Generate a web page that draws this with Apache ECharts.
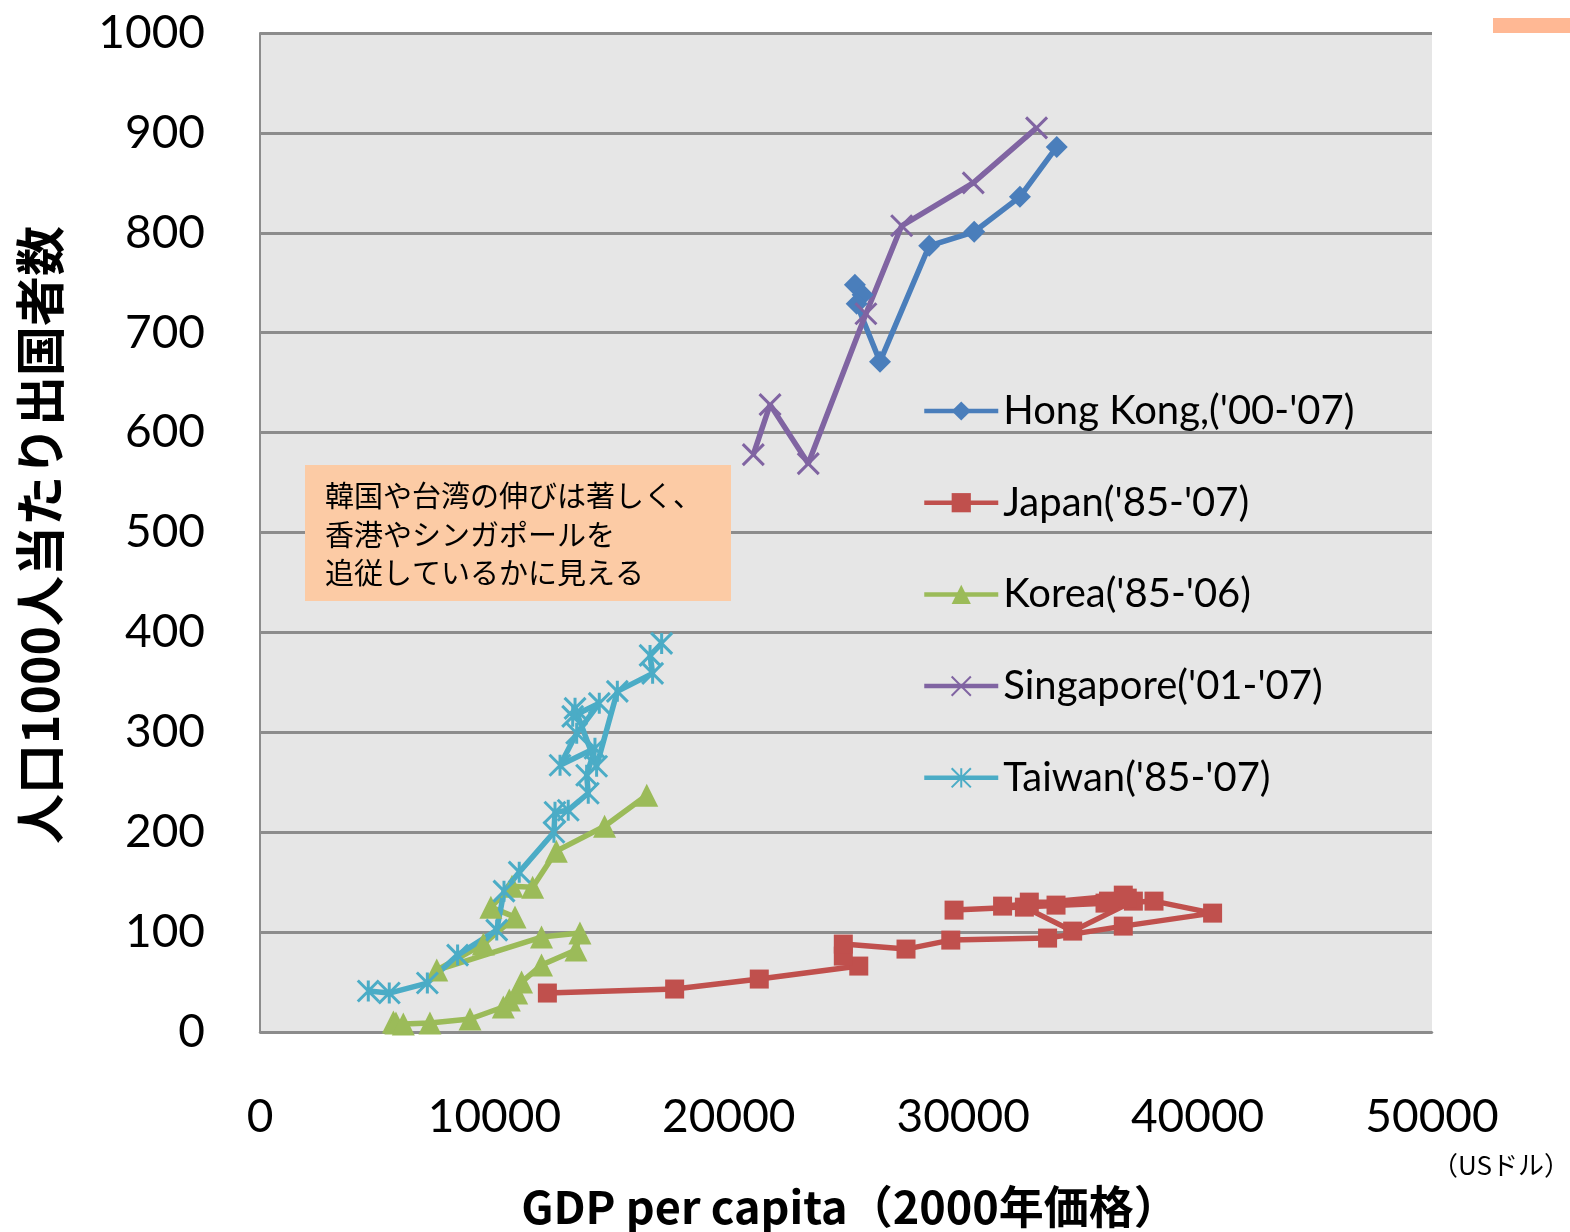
<!DOCTYPE html>
<html>
<head>
<meta charset="utf-8">
<script src="https://cdn.jsdelivr.net/npm/echarts@6/dist/echarts.min.js"></script>
<style>
  html, body { margin: 0; padding: 0; background: #ffffff; }
  #chart { width: 1570px; height: 1232px; }
</style>
</head>
<body>
<div id="chart"></div>
<script>
// GDP per capita (USD, 2000 prices) and outbound travellers per 1000 population
const hongKongGdp  = [25380, 25710, 25455, 26450, 28550, 30470, 32420, 33990];
const hongKongRate = [748, 738, 729, 671, 787, 801, 836, 886];

const japanGdp  = [12260, 17690, 21300, 25545, 24885, 24885, 27560, 29470, 33600, 36830, 40640, 38140,
                   36050, 29610, 33960, 36830, 31680, 32610, 34670, 37260, 37000, 36200, 32820];
const japanRate = [39, 43, 53, 66, 76, 88, 83, 92, 94, 106, 119, 131,
                   129, 122, 127, 137, 126, 125, 101, 131, 134, 131, 130];

const koreaGdp  = [5690, 5800, 6115, 7250, 8960, 10380, 10635, 10950, 11160, 12010, 13480, 13650,
                   12010, 7540, 9530, 10880, 9850, 10750, 11630, 12640, 14700, 16500];
const koreaRate = [10, 9, 8, 9, 13, 25, 32, 39, 50, 67, 82, 99,
                   95, 62, 88, 115, 125, 146, 145, 181, 206, 237];

const singaporeGdp  = [21045, 21760, 23390, 25850, 27375, 30430, 33130];
const singaporeRate = [578, 628, 569, 719, 807, 850, 905];

const taiwanGdp  = [4620, 5515, 7140, 8430, 10100, 10410, 11060, 12540, 12585, 13150, 14005, 13935,
                    14290, 12800, 13510, 14475, 13340, 13440, 14360, 15245, 16750, 16640, 17135];
const taiwanRate = [41, 39, 49, 77, 102, 141, 160, 200, 220, 222, 239, 257,
                    284, 267, 299, 329, 316, 324, 266, 341, 359, 377, 389];

const seriesNames = ["Hong Kong,('00-'07)", "Japan('85-'07)", "Korea('85-'06)", "Singapore('01-'07)", "Taiwan('85-'07)"];
const yAxisTitle = '人口1000人当たり出国者数';
const xAxisTitle = 'GDP per capita（2000年価格）';
const unitLabel = '（USドル）';
const noteLines = ['韓国や台湾の伸びは著しく、', '香港やシンガポールを', '追従しているかに見える'];

const pairs = (xs, ys) => xs.map((x, i) => [x, ys[i]]);

const latin = 'Lato, "Noto Sans", sans-serif';
const cjk = '"Noto Sans CJK JP", sans-serif';

const crossPath = 'path://M0,0L10,10M10,0L0,10';
const starPath = 'path://M0,0L10,10M10,0L0,10M5,0L5,10';

function lineSeries(name, data, color, symbol, size, stroked) {
  return {
    name: name,
    type: 'line',
    data: data,
    symbol: symbol,
    symbolSize: size,
    showSymbol: true,
    animation: false,
    lineStyle: { color: color, width: 5.5 },
    itemStyle: stroked
      ? { color: color, borderColor: color, borderWidth: 3 }
      : { color: color, borderWidth: 0 },
    emphasis: { disabled: true }
  };
}

const chart = echarts.init(document.getElementById('chart'), null, { renderer: 'canvas' });

chart.setOption({
  backgroundColor: '#ffffff',
  animation: false,
  grid: {
    left: 260, top: 33, width: 1172, height: 999,
    show: true, backgroundColor: '#e6e6e6', borderWidth: 0
  },
  xAxis: {
    type: 'value', min: 0, max: 50000, interval: 10000,
    axisLine: { show: true, lineStyle: { color: '#8c8c8c', width: 2.5 } },
    axisTick: { show: false },
    splitLine: { show: false },
    axisLabel: { fontFamily: latin, fontSize: 46, color: '#000', margin: 62, formatter: v => String(v) }
  },
  yAxis: {
    type: 'value', min: 0, max: 1000, interval: 100,
    axisLine: { show: true, lineStyle: { color: '#8c8c8c', width: 2 } },
    axisTick: { show: false },
    splitLine: { show: true, lineStyle: { color: '#8c8c8c', width: 3 } },
    axisLabel: { fontFamily: latin, fontSize: 46, color: '#000', margin: 55, formatter: v => String(v) }
  },
  legend: {
    orient: 'vertical',
    left: 922, top: 386,
    padding: 0,
    itemWidth: 74, itemHeight: 24,
    itemGap: 41.7,
    lineStyle: { width: 4.5 },
    textStyle: { fontFamily: latin, fontSize: 40, color: '#000', lineHeight: 50 },
    data: seriesNames
  },
  series: [
    lineSeries(seriesNames[0], pairs(hongKongGdp, hongKongRate), '#4a7ebb', 'diamond', 22, false),
    lineSeries(seriesNames[1], pairs(japanGdp, japanRate), '#c0504d', 'rect', 19, false),
    lineSeries(seriesNames[2], pairs(koreaGdp, koreaRate), '#9bbb59', 'triangle', 23, false),
    lineSeries(seriesNames[3], pairs(singaporeGdp, singaporeRate), '#8064a2', crossPath, 21, true),
    lineSeries(seriesNames[4], pairs(taiwanGdp, taiwanRate), '#4bacc6', starPath, 21, true)
  ],
  graphic: [
    {
      type: 'rect', left: 1493, top: 18, shape: { width: 77, height: 15 },
      style: { fill: '#ffb894' }, silent: true, z: 100
    },
    {
      type: 'group', left: 305, top: 465, silent: true, z: 100,
      children: [
        { type: 'rect', z: 100, shape: { width: 426, height: 136 }, style: { fill: '#fccba5' } },
        {
          type: 'text', z: 101, left: 20, top: 12,
          style: { text: noteLines.join('\n'), fontFamily: cjk, fontSize: 29, lineHeight: 38.5, fill: '#000' }
        }
      ]
    },
    {
      type: 'text', silent: true, z: 100,
      x: 40, y: 535, rotation: Math.PI / 2,
      style: { text: yAxisTitle, fontFamily: cjk, fontWeight: 'bold', fontSize: 50, fill: '#000', align: 'center', verticalAlign: 'middle' }
    },
    {
      type: 'text', silent: true, z: 100,
      x: 850, y: 1207,
      style: { text: xAxisTitle, fontFamily: cjk, fontWeight: 'bold', fontSize: 45, fill: '#000', align: 'center', verticalAlign: 'middle' }
    },
    {
      type: 'text', silent: true, z: 100,
      x: 1501, y: 1165,
      style: { text: unitLabel, fontFamily: cjk, fontSize: 26, fill: '#000', align: 'center', verticalAlign: 'middle' }
    }
  ]
});
</script>
</body>
</html>
